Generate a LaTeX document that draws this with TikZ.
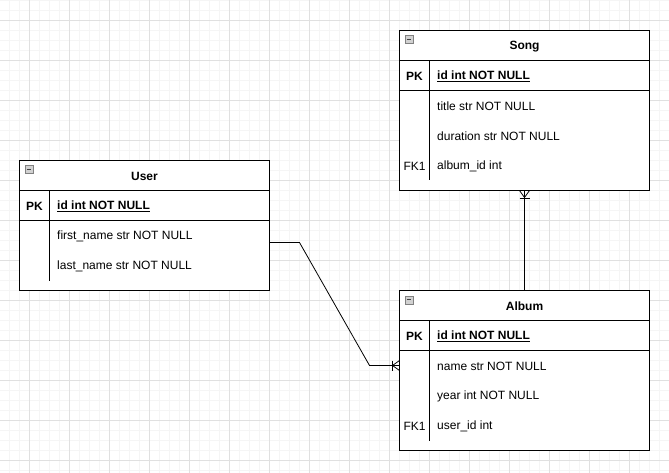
\documentclass[tikz,border=0pt]{standalone}
\usepackage{fontspec}
\setmainfont{Liberation Sans}
\begin{document}
\begin{tikzpicture}[x=1pt,y=-1pt,
  minorgrid/.style={draw=black!4, line width=0.6pt},
  majorgrid/.style={draw=black!12, line width=0.8pt},
  tbl/.style={draw, line width=1pt, fill=white, minimum width=250pt, anchor=north west, inner sep=0pt, outer sep=0pt},
  sep/.style={line width=1pt},
  fld/.style={anchor=west, inner sep=0pt, yshift=-1pt, font=\fontsize{12}{14}\selectfont},
  key/.style={inner sep=0pt, yshift=-1pt, font=\fontsize{12}{14}\selectfont},
  ttl/.style={inner sep=0pt, yshift=-1pt, font=\fontsize{12}{14}\selectfont\bfseries},
  icon/.style={draw=black!50, fill=black!18, line width=0.6pt, minimum width=8pt, minimum height=8pt, inner sep=0pt, anchor=north west},
  conn/.style={line width=0.8pt}
]
\useasboundingbox (0,0) rectangle (669,473);
\fill[white] (0,0) rectangle (669,473);
% grid
\foreach \x in {9.5,19.5,...,669} \draw[minorgrid] (\x,0) -- (\x,473);
\foreach \y in {0.5,10.5,...,473} \draw[minorgrid] (0,\y) -- (669,\y);
\foreach \x in {29.5,69.5,...,669} \draw[majorgrid] (\x,0) -- (\x,473);
\foreach \y in {20.5,60.5,...,473} \draw[majorgrid] (0,\y) -- (669,\y);

% ---------- Song ----------
\node[tbl, minimum height=160pt] (song) at (399.5,30.5) {};
\draw[sep] (399.5,60.5) -- (649.5,60.5);
\draw[sep] (399.5,90.5) -- (649.5,90.5);
\draw[sep] (429.5,60.5) -- (429.5,180.5);
\node[icon] (songicon) at (404.5,35.5) {};
\draw[line width=0.8pt, black!75] (406.5,39.5) -- (410.5,39.5);
\node[ttl] (songtitle) at (524.5,45.5) {Song};
\node[key, font=\fontsize{12}{14}\selectfont\bfseries] (songpk) at (414.5,75.5) {PK};
\node[fld] (songid) at (437,75.5) {\textbf{\underline{id int NOT NULL}}};
\node[fld] (songf1) at (437,105.5) {title str NOT NULL};
\node[fld] (songf2) at (437,135.5) {duration str NOT NULL};
\node[key] (songfk) at (414.5,165.5) {FK1};
\node[fld] (songf3) at (437,165.5) {album\_id int};

% ---------- User ----------
\node[tbl, minimum height=130pt] (user) at (19.5,160.5) {};
\draw[sep] (19.5,190.5) -- (269.5,190.5);
\draw[sep] (19.5,220.5) -- (269.5,220.5);
\draw[sep] (49.5,190.5) -- (49.5,280.5);
\node[icon] (usericon) at (24.5,165.5) {};
\draw[line width=0.8pt, black!75] (26.5,169.5) -- (30.5,169.5);
\node[ttl] (usertitle) at (144.5,175.5) {User};
\node[key, font=\fontsize{12}{14}\selectfont\bfseries] (userpk) at (34.5,205.5) {PK};
\node[fld] (userid) at (57,205.5) {\textbf{\underline{id int NOT NULL}}};
\node[fld] (userf1) at (57,235.5) {first\_name str NOT NULL};
\node[fld] (userf2) at (57,265.5) {last\_name str NOT NULL};

% ---------- Album ----------
\node[tbl, minimum height=160pt] (album) at (399.5,290.5) {};
\draw[sep] (399.5,320.5) -- (649.5,320.5);
\draw[sep] (399.5,350.5) -- (649.5,350.5);
\draw[sep] (429.5,320.5) -- (429.5,440.5);
\node[icon] (albumicon) at (404.5,295.5) {};
\draw[line width=0.8pt, black!75] (406.5,299.5) -- (410.5,299.5);
\node[ttl] (albumtitle) at (524.5,305.5) {Album};
\node[key, font=\fontsize{12}{14}\selectfont\bfseries] (albumpk) at (414.5,335.5) {PK};
\node[fld] (albumid) at (437,335.5) {\textbf{\underline{id int NOT NULL}}};
\node[fld] (albumf1) at (437,365.5) {name str NOT NULL};
\node[fld] (albumf2) at (437,395.5) {year int NOT NULL};
\node[key] (albumfk) at (414.5,425.5) {FK1};
\node[fld] (albumf3) at (437,425.5) {user\_id int};

% ---------- connectors ----------
\coordinate (uout) at (269.5,242.5);
\coordinate (ain) at (399.5,365.5);
\coordinate (sout) at (524.5,190.5);
\coordinate (atop) at (524.5,290.5);

\draw[conn] (uout) -- (299.5,242.5) -- (369.5,365.5) -- (ain);
\draw[conn] (392,360.5) -- (392,370.5);
\draw[conn] (392.5,365.5) -- (399.5,360.5);
\draw[conn] (392.5,365.5) -- (399.5,370.5);

\draw[conn] (sout) -- (atop);
\draw[conn] (519.5,198) -- (529.5,198);
\draw[conn] (524.5,197.5) -- (519.5,190.5);
\draw[conn] (524.5,197.5) -- (529.5,190.5);
\end{tikzpicture}
\end{document}
